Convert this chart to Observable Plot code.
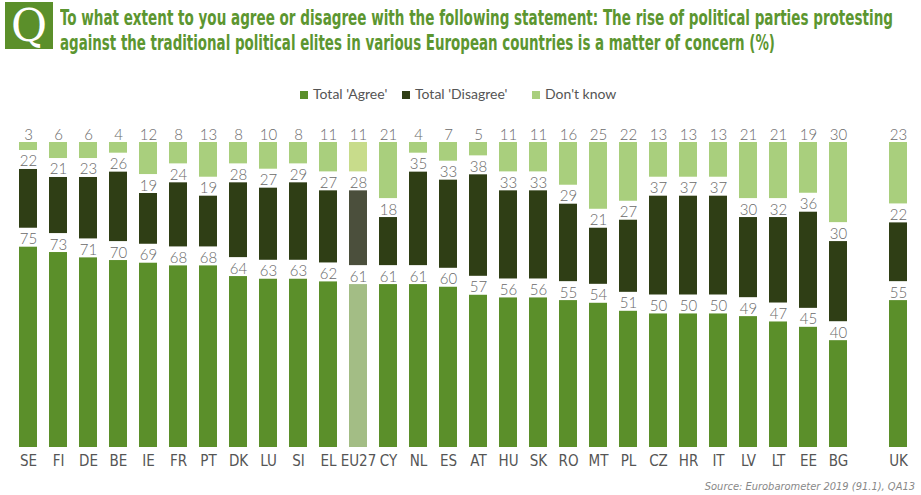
<!DOCTYPE html>
<html>
<head>
<meta charset="utf-8">
<script src="https://cdn.jsdelivr.net/npm/d3@7"></script>
<script src="https://cdn.jsdelivr.net/npm/@observablehq/plot@0.6"></script>
<style>
  html, body { margin: 0; padding: 0; background: #fff; width: 921px; height: 495px; overflow: hidden; }
  #qbox { position: absolute; left: 5px; top: 2px; width: 48px; height: 47px; background: #5b8f2a;
          color: #fff; font-family: "DejaVu Serif", "Liberation Serif", serif; font-size: 44px; line-height: 47px; text-align: center; }
  .tline { position: absolute; left: 60px; white-space: nowrap; transform-origin: 0 0;
           font-family: "Liberation Sans Narrow", "DejaVu Sans Condensed", "Roboto", sans-serif; font-stretch: condensed;
           font-weight: bold; font-size: 22px; color: #5c9630; line-height: 24px; }
  #legend { position: absolute; top: 84px; left: 0; width: 921px; height: 20px; }
  .litem { position: absolute; top: 0; font-family: Lato, "Open Sans", sans-serif; font-size: 14px; color: #555; line-height: 20px; white-space: nowrap; }
  .lsw { display: inline-block; width: 8px; height: 8px; margin-right: 5px; vertical-align: 0px; }
  #chart { position: absolute; left: 0; top: 112px; }
  #source { position: absolute; right: 6px; top: 480px; font-family: "Liberation Sans Narrow", "DejaVu Sans Condensed", sans-serif; font-stretch: condensed;
            font-style: italic; font-size: 11px; color: #888; white-space: nowrap; }
</style>
</head>
<body>
<div id="qbox">Q</div>
<div class="tline" id="t1" style="top:6px">To what extent to you agree or disagree with the following statement: The rise of political parties protesting</div>
<div class="tline" id="t2" style="top:31px">against the traditional political elites in various European countries is a matter of concern (%)</div>
<div id="legend"></div>
<div id="chart"></div>
<div id="source">Source: Eurobarometer 2019 (91.1), QA13</div>
<script>
const countries = ["SE","FI","DE","BE","IE","FR","PT","DK","LU","SI","EL","EU27","CY","NL","ES","AT","HU","SK","RO","MT","PL","CZ","HR","IT","LV","LT","EE","BG","UK"];
const agree    = [75,73,71,70,69,68,68,64,63,63,62,61,61,61,60,57,56,56,55,54,51,50,50,50,49,47,45,40,55];
const disagree = [22,21,23,26,19,24,19,28,27,29,27,28,18,35,33,38,33,33,29,21,27,37,37,37,30,32,36,30,22];
const dontKnow = [ 3, 6, 6, 4,12, 8,13, 8,10, 8,11,11,21, 4, 7, 5,11,11,16,25,22,13,13,13,21,21,19,30,23];
const seriesNames = ["Total 'Agree'", "Total 'Disagree'", "Don't know"];
const colors = ["#5b8f2a", "#2f3e15", "#a9cf7d"];
const euColors = ["#a3bd85", "#4b4f3c", "#c8dc8b"];
const highlight = "EU27";
const spacer = " ";

// title line fitting
function fit(id, targetWidth) {
  const el = document.getElementById(id);
  const w = el.getBoundingClientRect().width;
  el.style.transform = `scaleX(${targetWidth / w})`;
}
fit("t1", 833);
fit("t2", 715);

// legend
const legendX = [300, 402, 532];
const legend = document.getElementById("legend");
seriesNames.forEach((name, i) => {
  const d = document.createElement("div");
  d.className = "litem";
  d.style.left = legendX[i] + "px";
  d.innerHTML = `<span class="lsw" style="background:${colors[i]}"></span>${name}`;
  legend.appendChild(d);
});

// stacked segments separated by a constant gap (in y units)
const GAP = 7.1;
const rows = [];
countries.forEach((c, i) => {
  const vals = [agree[i], disagree[i], dontKnow[i]];
  let base = 0;
  vals.forEach((v, k) => {
    rows.push({country: c, series: seriesNames[k], value: v, y1: base, y2: base + v,
               color: (c === highlight ? euColors : colors)[k]});
    base += v + GAP;
  });
});

const xDomain = [...countries.slice(0, -1), spacer, countries[countries.length - 1]];

const chart = Plot.plot({
  width: 921,
  height: 365,
  marginTop: 30,
  marginBottom: 30,
  marginLeft: 10,
  marginRight: 6,
  style: {fontFamily: "Lato, 'Open Sans', sans-serif", background: "transparent"},
  x: {domain: xDomain, paddingInner: 0.41, paddingOuter: 0, label: null},
  y: {domain: [0, 100 + 2 * GAP], axis: null},
  color: {type: "identity"},
  marks: [
    Plot.barY(rows, {x: "country", y1: "y1", y2: "y2", fill: "color"}),
    Plot.text(rows, {x: "country", y: "y2", text: d => String(d.value), dy: -3, lineAnchor: "bottom",
                     fill: "#6a6a6a", fontSize: 15, fontWeight: 300}),
    Plot.axisX({tickSize: 0, tickPadding: 8, fontSize: 15, color: "#555",
                fontFamily: "'Liberation Sans Narrow', 'DejaVu Sans Condensed', sans-serif",
                tickFormat: d => d === spacer ? "" : d})
  ]
});
document.getElementById("chart").appendChild(chart);
</script>
</body>
</html>
